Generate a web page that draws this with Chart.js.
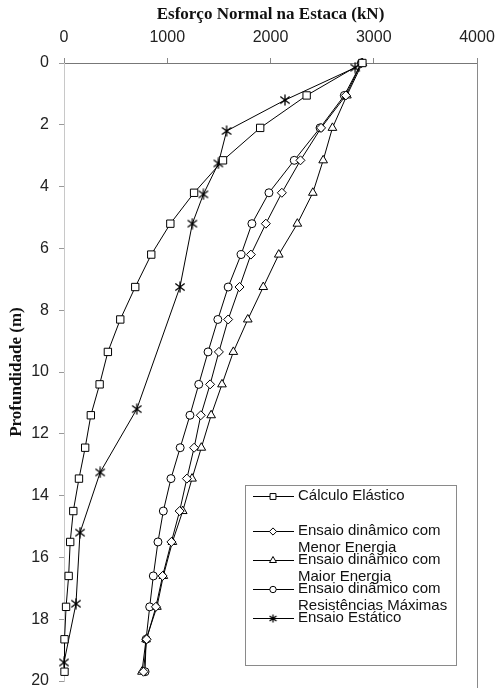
<!DOCTYPE html>
<html>
<head>
<meta charset="utf-8">
<script src="https://cdn.jsdelivr.net/npm/chart.js@4/dist/chart.umd.min.js"></script>
<style>
  html, body { margin: 0; padding: 0; background: #fff; }
  #wrap { width: 496px; height: 688px; }
</style>
</head>
<body>
<div id="wrap"><canvas id="c" width="496" height="688"></canvas></div>
<script>
// Depth (m) of the measured sections along the pile
const depths = [0, 1.05, 2.1, 3.15, 4.2, 5.2, 6.2, 7.25, 8.3, 9.35, 10.4, 11.4, 12.45, 13.45, 14.5, 15.5, 16.6, 17.6, 18.65, 19.7];

// Normal force (kN) per section
const forceElastic      = [2890, 2350, 1900, 1540, 1260, 1030, 845, 690, 545, 425, 345, 260, 205, 145, 90, 60, 45, 20, 5, 5];
const forceMenorEnergia = [2880, 2730, 2490, 2290, 2110, 1955, 1810, 1700, 1590, 1500, 1415, 1325, 1260, 1190, 1120, 1040, 955, 890, 800, 770];
const forceMaiorEnergia = [2890, 2740, 2600, 2510, 2410, 2260, 2080, 1930, 1780, 1640, 1530, 1425, 1330, 1240, 1150, 1050, 962, 900, 795, 755];
const forceResistMax    = [2880, 2715, 2480, 2230, 1985, 1820, 1715, 1590, 1490, 1395, 1305, 1220, 1125, 1036, 962, 910, 865, 830, 795, 785];

// Static load test (own depth stations)
const depthStatic = [0.15, 1.2, 2.2, 3.25, 4.25, 5.2, 7.25, 11.2, 13.25, 15.2, 17.5, 19.4];
const forceStatic = [2820, 2140, 1575, 1495, 1350, 1243, 1123, 705, 350, 155, 116, 0];

// Axis ticks
const forceTicks = [0, 1000, 2000, 3000, 4000];
const depthTicks = [0, 2, 4, 6, 8, 10, 12, 14, 16, 18, 20];

const seriesNames = [
  ['Cálculo Elástico'],
  ['Ensaio dinâmico com', 'Menor Energia'],
  ['Ensaio dinâmico com', 'Maior Energia'],
  ['Ensaio dinâmico com', 'Resistências Máximas'],
  ['Ensaio Estático']
];

const pairs = (xs, ys) => xs.map((v, i) => ({ x: v, y: ys[i] }));

// Six-armed asterisk marker (X with a vertical bar)
function asterisk(size) {
  const cv = document.createElement('canvas');
  cv.width = size; cv.height = size;
  const g = cv.getContext('2d');
  const c = size / 2, r = size / 2 - 0.5;
  g.strokeStyle = '#000';
  g.lineWidth = 1.3;
  g.beginPath();
  g.moveTo(c, c - r); g.lineTo(c, c + r);
  const d = r * 0.85;
  g.moveTo(c - d, c - d * 0.75); g.lineTo(c + d, c + d * 0.75);
  g.moveTo(c + d, c - d * 0.75); g.lineTo(c - d, c + d * 0.75);
  g.stroke();
  return cv;
}
const starMark = asterisk(12);
const starMarkSmall = asterisk(9);

function series(label, xs, ys, style, radius) {
  return {
    label: label.join(' '),
    data: pairs(xs, ys),
    showLine: true,
    borderColor: '#000',
    borderWidth: 1,
    backgroundColor: '#fff',
    pointStyle: style,
    pointRadius: radius,
    pointBorderColor: '#000',
    pointBackgroundColor: '#fff',
    pointBorderWidth: 1,
    clip: false
  };
}

const datasets = [
  series(seriesNames[0], forceElastic, depths, 'rect', 5.2),
  series(seriesNames[1], forceMenorEnergia, depths, 'rectRot', 4.5),
  series(seriesNames[2], forceMaiorEnergia, depths, 'triangle', 5),
  series(seriesNames[3], forceResistMax, depths, 'circle', 4),
  series(seriesNames[4], forceStatic, depthStatic, starMark, 6)
];

// Frame line on the right side of the plot
const rightEdge = {
  id: 'rightEdge',
  beforeDatasetsDraw(chart) {
    const { ctx, chartArea: a } = chart;
    ctx.save();
    ctx.strokeStyle = '#8a8a8a';
    ctx.lineWidth = 1;
    ctx.beginPath();
    ctx.moveTo(Math.round(a.right) + 0.5, a.top);
    ctx.lineTo(Math.round(a.right) + 0.5, a.bottom + 10);
    ctx.stroke();
    ctx.restore();
  }
};

// Boxed legend with wrapped entry names
const boxLegend = {
  id: 'boxLegend',
  afterDraw(chart) {
    const ctx = chart.ctx;
    const box = { x: 245.5, y: 485.5, w: 211, h: 180 };
    const rows = [496, 531, 560, 589, 618];
    const lineGap = 16.5;
    ctx.save();
    ctx.fillStyle = '#fff';
    ctx.fillRect(box.x, box.y, box.w, box.h);
    ctx.strokeStyle = '#8a8a8a';
    ctx.lineWidth = 1;
    ctx.strokeRect(box.x, box.y, box.w, box.h);
    ctx.font = '15px "Liberation Sans", Arial, sans-serif';
    ctx.textBaseline = 'middle';
    ctx.textAlign = 'left';
    chart.data.datasets.forEach((ds, i) => {
      const y = rows[i];
      ctx.strokeStyle = '#000';
      ctx.lineWidth = 1;
      ctx.beginPath();
      ctx.moveTo(253, y + 0.5);
      ctx.lineTo(294, y + 0.5);
      ctx.stroke();
      if (typeof ds.pointStyle === 'string') {
        const opts = { pointStyle: ds.pointStyle, radius: ds.pointRadius * 0.8, rotation: 0, borderWidth: 1 };
        ctx.fillStyle = '#fff';
        ctx.strokeStyle = '#000';
        Chart.helpers.drawPoint(ctx, opts, 273, y + 0.5);
      } else {
        ctx.drawImage(starMarkSmall, 273 - 4.5, y + 0.5 - 4.5);
      }
      ctx.fillStyle = '#111';
      seriesNames[i].forEach((t, k) => ctx.fillText(t, 298, y + k * lineGap));
    });
    ctx.restore();
  }
};

const tickFont = { family: '"Liberation Sans", Arial, sans-serif', size: 16 };
const titleFont = { family: '"Liberation Serif", "Times New Roman", serif', size: 17, weight: 'bold' };

new Chart(document.getElementById('c'), {
  type: 'scatter',
  data: { datasets },
  options: {
    responsive: false,
    animation: false,
    devicePixelRatio: 1,
    layout: { padding: { top: 0, left: 0, right: 19, bottom: 6 } },
    plugins: { legend: { display: false }, tooltip: { enabled: false } },
    scales: {
      x: {
        type: 'linear',
        position: 'top',
        min: forceTicks[0],
        max: forceTicks[forceTicks.length - 1],
        afterBuildTicks(s) { s.ticks = forceTicks.map(v => ({ value: v })); },
        ticks: { font: tickFont, color: '#222', padding: 11, maxRotation: 0, callback: v => String(v) },
        grid: { drawOnChartArea: false, drawTicks: true, tickLength: 5, color: '#888' },
        border: { display: true, color: '#777', width: 1 },
        title: { display: true, text: 'Esforço Normal na Estaca (kN)', font: titleFont, color: '#111', padding: { top: 4, bottom: 0 } },
        afterFit(s) { s.height = 63; s.paddingLeft = 0; s.paddingRight = 0; }
      },
      y: {
        type: 'linear',
        position: 'left',
        reverse: true,
        min: depthTicks[0],
        max: depthTicks[depthTicks.length - 1],
        afterBuildTicks(s) { s.ticks = depthTicks.map(v => ({ value: v })); },
        ticks: { font: tickFont, color: '#222', padding: 10, callback: v => String(v) },
        grid: { drawOnChartArea: false, drawTicks: true, tickLength: 5, color: '#999' },
        border: { display: true, color: '#c8c8c8', width: 1 },
        title: { display: true, text: 'Profundidade (m)', font: titleFont, color: '#111', padding: { top: 6, bottom: 0 } },
        afterFit(s) { s.width = 64; s.paddingTop = 0; s.paddingBottom = 0; }
      }
    }
  },
  plugins: [rightEdge, boxLegend]
});
</script>
</body>
</html>
